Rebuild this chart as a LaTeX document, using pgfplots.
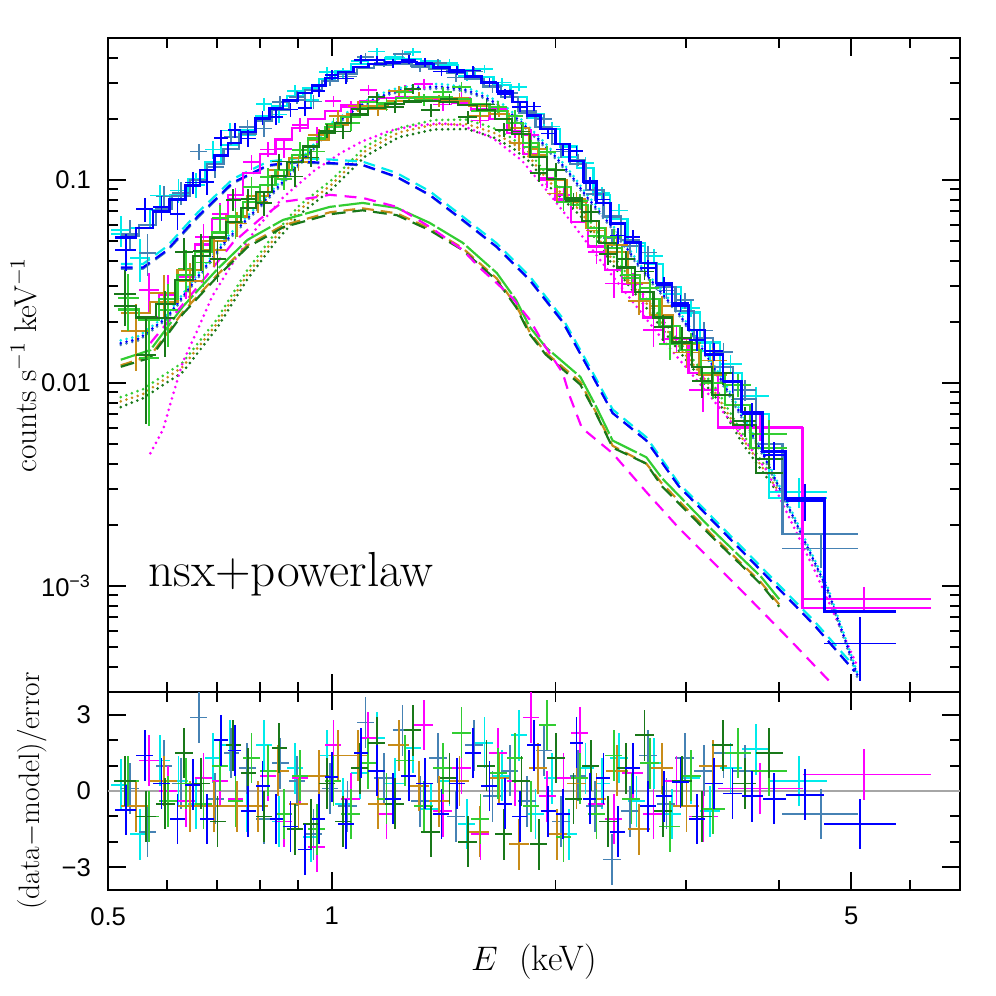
\documentclass[border=0pt]{standalone}
\usepackage{fontspec}
\usepackage{pgfplots}
\usepackage{pgfplotstable}
\pgfplotsset{compat=1.18}
\newfontfamily\tickfont{Liberation Sans}
\definecolor{cB}{RGB}{0,0,255}
\definecolor{cC}{RGB}{0,235,235}
\definecolor{cS}{RGB}{70,130,180}
\definecolor{cM}{RGB}{255,0,255}
\definecolor{cO}{RGB}{200,140,25}
\definecolor{cG}{RGB}{50,205,50}
\definecolor{cD}{RGB}{25,120,25}

\pgfplotstableread{
el eh e m y dy r
0.511 0.545 0.528 0.052 0.045 0.0094 -0.75
0.545 0.575 0.560 0.058 0.0718 0.0099 1.4
0.575 0.605 0.590 0.070 0.0732 0.0105 0.3
0.605 0.635 0.620 0.080 0.0677 0.0112 -1.1
0.635 0.665 0.650 0.094 0.0971 0.0122 0.25
0.665 0.695 0.680 0.112 0.0972 0.0134 -1.1
0.695 0.725 0.710 0.132 0.161 0.0145 2.0
0.725 0.755 0.740 0.152 0.176 0.0152 1.6
0.755 0.790 0.772 0.172 0.160 0.0155 -0.8
0.790 0.825 0.807 0.200 0.203 0.016 0.2
0.825 0.860 0.842 0.224 0.204 0.0179 -1.1
0.860 0.900 0.880 0.246 0.222 0.0172 -1.4
0.900 0.940 0.920 0.268 0.225 0.0188 -2.3
0.940 0.980 0.960 0.292 0.273 0.0175 -1.1
0.980 1.02 1.00 0.318 0.328 0.0191 0.55
1.02 1.07 1.045 0.340 0.316 0.0187 -1.3
1.07 1.12 1.095 0.360 0.390 0.0198 1.5
1.12 1.18 1.15 0.373 0.388 0.0187 0.8
1.18 1.24 1.21 0.381 0.375 0.0191 -0.3
1.24 1.30 1.27 0.380 0.391 0.019 0.6
1.30 1.37 1.335 0.372 0.378 0.0186 0.3
1.37 1.44 1.405 0.358 0.342 0.0179 -0.9
1.44 1.51 1.475 0.342 0.347 0.0171 0.3
1.51 1.59 1.55 0.322 0.346 0.0161 1.5
1.59 1.67 1.63 0.300 0.303 0.015 0.2
1.67 1.75 1.71 0.272 0.265 0.015 -0.5
1.75 1.83 1.79 0.242 0.229 0.0133 -1.0
1.83 1.91 1.87 0.208 0.230 0.0125 1.8
1.91 2.00 1.955 0.178 0.169 0.0107 -0.8
2.00 2.09 2.045 0.150 0.141 0.0098 -0.9
2.09 2.18 2.135 0.124 0.139 0.0081 1.9
2.18 2.27 2.225 0.098 0.096 0.0069 -0.3
2.27 2.37 2.32 0.077 0.080 0.0058 0.5
2.37 2.48 2.425 0.061 0.0532 0.0049 -1.6
2.48 2.60 2.54 0.049 0.0525 0.0039 0.9
2.60 2.73 2.665 0.039 0.0369 0.0035 -0.6
2.73 2.87 2.80 0.031 0.0304 0.0028 -0.2
2.87 3.02 2.945 0.024 0.0248 0.0024 0.35
3.02 3.18 3.10 0.0182 0.0162 0.0018 -1.1
3.18 3.36 3.27 0.0138 0.0143 0.0015 0.3
3.36 3.56 3.46 0.0102 0.0101 0.0012 -0.1
3.56 3.80 3.68 0.0072 0.0070 0.00094 -0.2
3.80 4.08 3.94 0.0046 0.0044 0.00069 -0.3
4.08 4.60 4.33 0.0027 0.00262 0.00054 -0.15
4.60 5.75 5.14 0.00075 0.00052 0.00018 -1.3
}\tabB

\pgfplotstableread{
el eh e m y dy r
0.505 0.535 0.52 0.054 0.0564 0.0097 0.25
0.535 0.57 0.552 0.058 0.0412 0.0099 -1.7
0.57 0.605 0.587 0.071 0.0838 0.0107 1.2
0.605 0.64 0.622 0.084 0.0887 0.0118 0.4
0.64 0.675 0.657 0.101 0.0944 0.0131 -0.5
0.675 0.71 0.692 0.122 0.141 0.0146 1.3
0.71 0.75 0.73 0.148 0.175 0.0148 1.8
0.75 0.79 0.77 0.176 0.166 0.0158 -0.6
0.79 0.83 0.81 0.206 0.236 0.0165 1.8
0.83 0.87 0.85 0.232 0.210 0.0186 -1.2
0.87 0.915 0.892 0.258 0.274 0.0181 0.9
0.915 0.96 0.937 0.284 0.248 0.0199 -1.8
0.96 1.01 0.985 0.314 0.340 0.0188 1.4
1.01 1.06 1.035 0.345 0.336 0.019 -0.5
1.06 1.12 1.09 0.372 0.385 0.0186 0.7
1.12 1.18 1.15 0.388 0.429 0.0194 2.1
1.18 1.25 1.215 0.396 0.402 0.0198 0.3
1.25 1.32 1.285 0.394 0.428 0.0197 1.7
1.32 1.40 1.36 0.384 0.371 0.0192 -0.7
1.40 1.48 1.44 0.368 0.375 0.0184 0.4
1.48 1.56 1.52 0.346 0.324 0.0173 -1.3
1.56 1.65 1.605 0.322 0.353 0.0161 1.9
1.65 1.74 1.695 0.292 0.302 0.0161 0.6
1.74 1.83 1.785 0.256 0.287 0.0141 2.2
1.83 1.93 1.88 0.212 0.201 0.0127 -0.9
1.93 2.03 1.98 0.178 0.183 0.0107 0.5
2.03 2.14 2.085 0.146 0.130 0.0095 -1.7
2.14 2.25 2.195 0.114 0.121 0.008 0.9
2.25 2.37 2.31 0.084 0.0859 0.0063 0.3
2.37 2.50 2.435 0.064 0.0707 0.0051 1.3
2.50 2.64 2.57 0.049 0.0474 0.0039 -0.4
2.64 2.79 2.715 0.0385 0.0423 0.0035 1.1
2.79 2.95 2.87 0.0298 0.0274 0.0027 -0.9
2.95 3.13 3.04 0.0222 0.0233 0.0022 0.5
3.13 3.33 3.23 0.0158 0.0144 0.0017 -0.8
3.33 3.56 3.44 0.0112 0.0124 0.00134 0.9
3.56 3.88 3.72 0.0070 0.0086 0.00098 1.65
3.88 4.64 4.25 0.0027 0.0029 0.00049 0.4
}\tabC

\pgfplotstableread{
el eh e m y dy r
0.52 0.55 0.535 0.053 0.054 0.0095 0.1
0.55 0.58 0.565 0.060 0.0437 0.0102 -1.6
0.58 0.61 0.595 0.072 0.0828 0.0108 1.0
0.61 0.645 0.627 0.083 0.0865 0.0116 0.3
0.645 0.68 0.662 0.100 0.138 0.013 2.9
0.68 0.715 0.697 0.120 0.116 0.0144 -0.3
0.715 0.75 0.732 0.142 0.163 0.0142 1.5
0.75 0.79 0.77 0.168 0.182 0.0151 0.9
0.79 0.83 0.81 0.196 0.179 0.0157 -1.1
0.83 0.875 0.852 0.222 0.242 0.0178 1.1
0.875 0.92 0.897 0.248 0.255 0.0174 0.4
0.92 0.97 0.945 0.276 0.243 0.0193 -1.7
0.97 1.02 0.995 0.306 0.308 0.0184 0.1
1.02 1.08 1.05 0.334 0.323 0.0184 -0.6
1.08 1.14 1.11 0.355 0.403 0.0178 2.7
1.14 1.21 1.175 0.368 0.377 0.0184 0.5
1.21 1.28 1.245 0.372 0.417 0.0186 2.4
1.28 1.35 1.315 0.366 0.359 0.0183 -0.4
1.35 1.43 1.39 0.352 0.375 0.0176 1.3
1.43 1.51 1.47 0.336 0.319 0.0168 -1.0
1.51 1.60 1.555 0.314 0.342 0.0157 1.8
1.60 1.69 1.645 0.288 0.285 0.0158 -0.2
1.69 1.78 1.735 0.256 0.267 0.0141 0.8
1.78 1.88 1.83 0.218 0.213 0.0131 -0.4
1.88 1.98 1.93 0.182 0.199 0.0109 1.6
1.98 2.09 2.035 0.150 0.138 0.0098 -1.2
2.09 2.20 2.145 0.120 0.125 0.0084 0.6
2.20 2.32 2.26 0.089 0.085 0.0067 -0.6
2.32 2.45 2.385 0.066 0.0517 0.0053 -2.7
2.45 2.59 2.52 0.0505 0.0473 0.004 -0.8
2.59 2.74 2.665 0.039 0.0439 0.0035 1.4
2.74 2.90 2.82 0.0298 0.0285 0.0027 -0.5
2.90 3.07 2.985 0.0226 0.0255 0.0023 1.3
3.07 3.26 3.165 0.0166 0.0181 0.0018 0.8
3.26 3.47 3.365 0.0120 0.0142 0.00144 1.5
3.47 3.72 3.595 0.0083 0.0092 0.00108 0.8
3.72 4.04 3.88 0.0050 0.0056 0.00075 0.8
4.04 5.10 4.55 0.0018 0.00153 0.0003 -0.9
}\tabS

\pgfplotstableread{
el eh e m y dy r
0.515 0.55 0.532 0.023 0.0262 0.0081 0.4
0.55 0.585 0.567 0.0205 0.0133 0.0072 -1.0
0.585 0.62 0.602 0.026 0.0229 0.0078 -0.4
0.62 0.655 0.637 0.034 0.0366 0.0085 0.3
0.655 0.69 0.672 0.044 0.0392 0.0097 -0.5
0.69 0.725 0.707 0.055 0.0649 0.0099 1.0
0.725 0.76 0.742 0.066 0.0618 0.0106 -0.4
0.76 0.80 0.78 0.078 0.0922 0.0109 1.3
0.80 0.84 0.82 0.094 0.103 0.0113 0.8
0.84 0.885 0.862 0.112 0.101 0.0123 -0.9
0.885 0.93 0.907 0.132 0.140 0.0132 0.6
0.93 0.98 0.955 0.160 0.138 0.0144 -1.5
0.98 1.03 1.005 0.182 0.188 0.0146 0.4
1.03 1.09 1.06 0.204 0.190 0.0153 -0.9
1.09 1.15 1.12 0.225 0.242 0.0158 1.1
1.15 1.22 1.185 0.240 0.235 0.0168 -0.3
1.22 1.29 1.255 0.252 0.272 0.0164 1.2
1.29 1.37 1.33 0.257 0.247 0.0167 -0.6
1.37 1.45 1.41 0.256 0.271 0.0166 0.9
1.45 1.54 1.495 0.250 0.287 0.0163 2.3
1.54 1.63 1.585 0.236 0.219 0.0153 -1.1
1.63 1.72 1.675 0.218 0.229 0.0153 0.7
1.72 1.81 1.765 0.190 0.207 0.0133 1.3
1.81 1.90 1.855 0.152 0.145 0.0114 -0.6
1.90 2.00 1.95 0.113 0.137 0.009 2.6
2.00 2.10 2.05 0.092 0.0779 0.0078 -1.8
2.10 2.21 2.155 0.075 0.0784 0.0068 0.5
2.21 2.33 2.27 0.058 0.0528 0.0058 -0.9
2.33 2.46 2.395 0.046 0.0524 0.0046 1.4
2.46 2.60 2.53 0.034 0.0329 0.0037 -0.3
2.60 2.76 2.68 0.026 0.0294 0.0031 1.1
2.76 2.94 2.85 0.019 0.0155 0.0025 -1.4
2.94 3.14 3.04 0.0145 0.0157 0.002 0.6
3.14 3.38 3.26 0.0112 0.0100 0.0017 -0.7
3.38 3.66 3.52 0.0078 0.0098 0.0013 1.5
3.66 4.10 3.88 0.0048 0.0056 0.00096 0.8
}\tabG

\pgfplotstableread{
el eh e m y dy r
0.51 0.545 0.527 0.024 0.0274 0.0084 0.4
0.545 0.58 0.562 0.021 0.0137 0.0074 -1.0
0.58 0.615 0.597 0.0245 0.0208 0.0074 -0.5
0.615 0.65 0.632 0.032 0.044 0.008 1.5
0.65 0.685 0.667 0.042 0.0448 0.0092 0.3
0.685 0.72 0.702 0.052 0.0408 0.0094 -1.2
0.72 0.755 0.737 0.062 0.0799 0.0099 1.8
0.755 0.79 0.772 0.073 0.0802 0.0102 0.7
0.79 0.83 0.81 0.087 0.0766 0.0104 -1.0
0.83 0.87 0.85 0.104 0.123 0.0114 1.7
0.87 0.915 0.892 0.122 0.104 0.0122 -1.5
0.915 0.96 0.937 0.146 0.129 0.0131 -1.3
0.96 1.01 0.985 0.170 0.174 0.0136 0.3
1.01 1.06 1.035 0.190 0.173 0.0143 -1.2
1.06 1.12 1.09 0.210 0.223 0.0147 0.9
1.12 1.18 1.15 0.225 0.255 0.0158 1.9
1.18 1.25 1.215 0.236 0.228 0.0153 -0.5
1.25 1.32 1.285 0.243 0.281 0.0158 2.4
1.32 1.40 1.36 0.245 0.220 0.0159 -1.6
1.40 1.48 1.44 0.242 0.250 0.0157 0.5
1.48 1.57 1.525 0.234 0.204 0.0152 -2.0
1.57 1.66 1.615 0.220 0.235 0.0154 1.0
1.66 1.75 1.705 0.200 0.176 0.014 -1.7
1.75 1.85 1.80 0.168 0.173 0.0126 0.4
1.85 1.95 1.90 0.130 0.108 0.0104 -2.1
1.95 2.06 2.005 0.101 0.112 0.0086 1.3
2.06 2.17 2.115 0.081 0.0788 0.0073 -0.3
2.17 2.29 2.23 0.063 0.0693 0.0063 1.0
2.29 2.42 2.355 0.049 0.0431 0.0049 -1.2
2.42 2.56 2.49 0.037 0.0407 0.0041 0.9
2.56 2.71 2.635 0.028 0.0354 0.0034 2.2
2.71 2.87 2.79 0.021 0.0188 0.0027 -0.8
2.87 3.05 2.96 0.0158 0.0167 0.0022 0.4
3.05 3.25 3.15 0.0120 0.0102 0.0018 -1.0
3.25 3.47 3.36 0.0087 0.0112 0.0014 1.8
3.47 3.72 3.595 0.0062 0.0065 0.0011 0.3
3.72 4.05 3.88 0.0036 0.0042 0.00043 1.5
}\tabD

\pgfplotstableread{
el eh e m y dy r
0.52 0.57 0.545 0.022 0.018 0.0066 -0.6
0.57 0.62 0.595 0.025 0.0276 0.0065 0.4
0.62 0.67 0.645 0.036 0.0317 0.0072 -0.6
0.67 0.72 0.695 0.050 0.0452 0.008 -0.6
0.72 0.77 0.745 0.066 0.0609 0.0086 -0.6
0.77 0.82 0.795 0.083 0.0775 0.0091 -0.6
0.82 0.875 0.847 0.104 0.112 0.0104 0.8
0.875 0.93 0.902 0.128 0.122 0.0115 -0.5
0.93 0.99 0.96 0.158 0.166 0.0126 0.6
0.99 1.05 1.02 0.186 0.206 0.014 1.4
1.05 1.12 1.085 0.210 0.231 0.0147 1.4
1.12 1.19 1.155 0.230 0.222 0.0161 -0.5
1.19 1.27 1.23 0.245 0.274 0.0159 1.8
1.27 1.35 1.31 0.252 0.255 0.0164 0.2
1.35 1.44 1.395 0.252 0.245 0.0164 -0.4
1.44 1.53 1.485 0.246 0.252 0.016 0.4
1.53 1.63 1.58 0.232 0.206 0.0162 -1.6
1.63 1.73 1.68 0.212 0.219 0.0148 0.5
1.73 1.84 1.785 0.180 0.152 0.0135 -2.1
1.84 1.95 1.895 0.132 0.142 0.0106 0.9
1.95 2.07 2.01 0.100 0.0856 0.0085 -1.7
2.07 2.20 2.135 0.078 0.0802 0.0074 0.3
2.20 2.34 2.27 0.058 0.0563 0.0058 -0.3
2.34 2.50 2.42 0.044 0.0479 0.0048 0.8
2.50 2.68 2.59 0.031 0.0254 0.0037 -1.5
2.68 2.88 2.78 0.0215 0.024 0.0028 0.9
2.88 3.12 3.0 0.0155 0.0141 0.0023 -0.6
3.12 3.40 3.26 0.0110 0.0129 0.0019 1.0
}\tabO

\pgfplotstableread{
el eh e m y dy r
0.55 0.585 0.567 0.021 0.0286 0.0063 1.2
0.585 0.62 0.602 0.027 0.027 0.0068 0.0
0.62 0.655 0.637 0.036 0.0331 0.0072 -0.4
0.655 0.69 0.672 0.048 0.0521 0.0082 0.5
0.69 0.725 0.707 0.064 0.0676 0.009 0.4
0.725 0.76 0.742 0.084 0.081 0.0101 -0.3
0.76 0.80 0.78 0.108 0.122 0.0108 1.3
0.80 0.84 0.82 0.134 0.141 0.0121 0.6
0.84 0.885 0.862 0.158 0.142 0.0134 -1.2
0.885 0.93 0.907 0.180 0.187 0.0144 0.5
0.93 0.98 0.955 0.200 0.167 0.015 -2.2
0.98 1.03 1.005 0.218 0.245 0.0153 1.8
1.03 1.09 1.06 0.234 0.229 0.0164 -0.3
1.09 1.15 1.12 0.245 0.278 0.0159 2.1
1.15 1.22 1.185 0.252 0.237 0.0164 -0.9
1.22 1.29 1.255 0.255 0.275 0.0166 1.2
1.29 1.37 1.33 0.254 0.297 0.0165 2.6
1.37 1.45 1.41 0.248 0.235 0.0161 -0.8
1.45 1.54 1.495 0.238 0.253 0.0167 0.9
1.54 1.63 1.585 0.222 0.196 0.0155 -1.7
1.63 1.72 1.675 0.200 0.223 0.015 1.5
1.72 1.81 1.765 0.170 0.175 0.0136 0.4
1.81 1.90 1.855 0.134 0.167 0.0114 2.9
1.90 2.00 1.95 0.102 0.100 0.0092 -0.2
2.00 2.10 2.05 0.080 0.084 0.008 0.5
2.10 2.21 2.155 0.062 0.0777 0.0068 2.3
2.21 2.33 2.27 0.047 0.0442 0.0056 -0.5
2.33 2.46 2.395 0.036 0.0309 0.0047 -1.1
2.46 2.62 2.54 0.028 0.0307 0.0039 0.7
2.62 2.80 2.71 0.0210 0.0182 0.0032 -0.9
2.80 3.02 2.91 0.0155 0.0165 0.0025 0.4
3.02 3.31 3.16 0.0112 0.0092 0.002 -1.0
3.31 4.30 3.77 0.0060 0.0061 0.0009 0.1
4.30 6.40 5.20 0.00078 0.00086 0.000125 0.65
}\tabM

\pgfplotstableread{
e b c s
0.52 0.037 0.0385 0.0365
0.557 0.037 0.0385 0.0365
0.60 0.045 0.047 0.0445
0.66 0.066 0.069 0.065
0.736 0.097 0.101 0.096
0.82 0.118 0.123 0.117
0.905 0.123 0.128 0.122
0.994 0.121 0.126 0.120
1.10 0.1185 0.123 0.118
1.223 0.1035 0.108 0.103
1.354 0.0844 0.088 0.084
1.50 0.0635 0.066 0.063
1.667 0.0468 0.0487 0.0466
1.846 0.0322 0.0335 0.032
2.045 0.0200 0.0208 0.0199
2.22 0.0116 0.0121 0.0116
2.387 0.0071 0.0074 0.0071
2.65 0.0052 0.0054 0.0052
2.93 0.0031 0.0032 0.0031
3.62 0.00140 0.00146 0.00140
4.46 0.00064 0.00067 0.00064
5.05 0.00038 0.00040 0.00038
}\tabUD

\pgfplotstableread{
e b c s
0.52 0.0157 0.0162 0.0154
0.55 0.0165 0.0170 0.0162
0.60 0.021 0.0216 0.0206
0.66 0.0333 0.0343 0.0326
0.72 0.050 0.0515 0.049
0.79 0.071 0.073 0.0696
0.86 0.098 0.101 0.096
0.93 0.135 0.139 0.132
1.0 0.185 0.191 0.181
1.1 0.235 0.242 0.230
1.2 0.27 0.278 0.265
1.3 0.285 0.294 0.279
1.4 0.288 0.297 0.282
1.5 0.28 0.288 0.274
1.6 0.258 0.266 0.253
1.7 0.228 0.235 0.223
1.8 0.192 0.198 0.188
1.9 0.158 0.163 0.155
2.0 0.13 0.134 0.127
2.1 0.105 0.108 0.103
2.2 0.083 0.0855 0.0813
2.38 0.059 0.0608 0.0578
2.6 0.037 0.0381 0.0363
2.93 0.022 0.0227 0.0216
3.2 0.0135 0.0139 0.0132
3.43 0.0088 0.0091 0.0086
3.8 0.0045 0.0046 0.0044
4.2 0.0021 0.00216 0.00206
4.65 0.00095 0.00098 0.00093
5.1 0.00036 0.00037 0.00035
}\tabUT

\pgfplotstableread{
e g d o
0.52 0.013 0.0120 0.0122
0.57 0.0145 0.0133 0.0136
0.63 0.0237 0.0218 0.0223
0.70 0.036 0.0331 0.0338
0.77 0.0506 0.0466 0.0476
0.86 0.0635 0.0584 0.0597
0.994 0.0736 0.0677 0.0692
1.10 0.077 0.0708 0.0724
1.223 0.0728 0.067 0.0684
1.354 0.0614 0.0565 0.0577
1.50 0.049 0.0451 0.0461
1.667 0.0348 0.032 0.0327
1.77 0.0256 0.0236 0.0241
1.846 0.0189 0.0174 0.0178
1.94 0.0150 0.0138 0.0141
2.16 0.0107 0.0098 0.0101
2.27 0.0076 0.0070 0.0071
2.387 0.0052 0.0048 0.0049
2.65 0.0043 0.0040 0.0040
2.78 0.0034 0.0031 0.0032
3.25 0.00189 0.00174 0.00178
3.78 0.00111 0.00102 0.00104
4.0 0.00086 0.00079 0.00081
}\tabLD

\pgfplotstableread{
e g d o
0.52 0.0085 0.0076 0.0081
0.557 0.0093 0.0084 0.0088
0.63 0.0126 0.0113 0.012
0.70 0.0205 0.0185 0.0195
0.77 0.036 0.0324 0.0342
0.84 0.055 0.0495 0.0523
0.905 0.075 0.0675 0.0713
1.0 0.10 0.090 0.095
1.11 0.146 0.131 0.139
1.23 0.18 0.162 0.171
1.37 0.197 0.177 0.187
1.52 0.198 0.178 0.188
1.65 0.18 0.162 0.171
1.75 0.16 0.144 0.152
1.85 0.135 0.122 0.128
1.95 0.105 0.0945 0.10
2.16 0.074 0.0666 0.0703
2.38 0.043 0.0387 0.0409
2.65 0.026 0.0234 0.0247
2.93 0.016 0.0144 0.0152
3.3 0.0092 0.0083 0.0087
3.56 0.0057 0.0051 0.0054
4.0 0.0031 0.0028 0.0029
}\tabLT

\pgfplotstableread{
e v
0.57 0.0157
0.60 0.0197
0.66 0.0297
0.736 0.049
0.80 0.064
0.86 0.078
0.95 0.082
0.994 0.0844
1.10 0.0815
1.223 0.0736
1.354 0.0587
1.50 0.0452
1.58 0.037
1.667 0.031
1.75 0.0262
1.846 0.0205
1.94 0.0150
2.045 0.0112
2.09 0.0086
2.17 0.0060
2.387 0.0045
2.65 0.0029
2.93 0.00193
3.62 0.00089
4.12 0.00055
4.67 0.00034
}\tabMD

\pgfplotstableread{
e v
0.57 0.0045
0.593 0.0059
0.61 0.0085
0.63 0.0126
0.66 0.0183
0.69 0.0266
0.736 0.039
0.79 0.057
0.86 0.082
0.95 0.112
1.03 0.136
1.1 0.155
1.2 0.175
1.3 0.185
1.4 0.19
1.5 0.185
1.65 0.16
1.8 0.125
1.95 0.088
2.1 0.062
2.3 0.04
2.5 0.027
2.8 0.016
3.15 0.0096
3.45 0.0064
3.85 0.0037
4.17 0.0020
4.46 0.0012
5.1 0.0004
}\tabMT

\tikzset{
  dsh/.style={line width=1.1bp, dash pattern=on 6bp off 3.5bp},
  dtt/.style={line width=1.5bp, line cap=round, dash pattern=on 0bp off 3bp},
}

\newcommand\drawspec[3]{%
  \addplot[#1, const plot mark left, line width=#3, forget plot] table[x=el,y=m]{#2};
  \addplot[#1, const plot mark right, line width=#3, forget plot] table[x=eh,y=m]{#2};
  \addplot[draw=none, mark=none, forget plot, error bars/.cd, x dir=both, x explicit, y dir=both, y explicit, error mark=none, error bar style={draw=#1, solid, line width=0.9bp}] table[x=e, y=y, x error minus expr=\thisrow{e}-\thisrow{el}, x error plus expr=\thisrow{eh}-\thisrow{e}, y error=dy]{#2};
}
\newcommand\drawres[2]{%
  \addplot[draw=none, mark=none, forget plot, error bars/.cd, x dir=both, x explicit, y dir=both, y explicit, error mark=none, error bar style={draw=#1, solid, line width=0.9bp}] table[x=e, y=r, x error minus expr=\thisrow{e}-\thisrow{el}, x error plus expr=\thisrow{eh}-\thisrow{e}, y error expr=1]{#2};
}

\begin{document}
\begin{tikzpicture}
\useasboundingbox (-54.7bp,-153.8bp) rectangle (449.3bp,350.2bp);
\begin{axis}[name=top, at={(0,0)}, anchor=south west,
  scale only axis, width=431bp, height=331bp,
  xmode=log, ymode=log, xmin=0.5, xmax=7, ymin=3e-4, ymax=0.5,
  xtick={0.5,1,5}, minor xtick={0.6,0.7,0.8,0.9,2,3,4,6,7},
  tick align=inside, xtick pos=both, ytick pos=both,
  major tick length=9bp, minor tick length=5bp,
  tick style={line width=1bp, black},
  axis line style={line width=1.3bp},
  tick label style={font=\tickfont\fontsize{13}{13}\selectfont},
  yticklabel style={anchor=east, inner sep=0pt, xshift=-8.5bp},
  ytick={0.001,0.01,0.1}, yticklabels={{10\textsuperscript{−3}},{0.01},{0.1}},
  minor ytick={4e-4,5e-4,6e-4,7e-4,8e-4,9e-4,0.002,0.003,0.004,0.005,0.006,0.007,0.008,0.009,0.02,0.03,0.04,0.05,0.06,0.07,0.08,0.09,0.2,0.3,0.4},
  xticklabels={,,},
  ylabel={counts\ s$^{-1}$\ keV$^{-1}$},
  ylabel style={at={(axis description cs:-0.0835,0.5)}, anchor=base, inner sep=0pt, font=\fontsize{16}{18}\selectfont}]
\addplot[cO, dtt] table[x=e,y=o]{\tabLT};
\addplot[cG, dtt] table[x=e,y=g]{\tabLT};
\addplot[cD, dtt] table[x=e,y=d]{\tabLT};
\addplot[cM, dtt] table[x=e,y=v]{\tabMT};
\addplot[cS, dtt] table[x=e,y=s]{\tabUT};
\addplot[cC, dtt] table[x=e,y=c]{\tabUT};
\addplot[cB, dtt] table[x=e,y=b]{\tabUT};
\addplot[cO, dsh] table[x=e,y=o]{\tabLD};
\addplot[cD, dsh, dash pattern=on 7bp off 3.5bp] table[x=e,y=d]{\tabLD};
\addplot[cG, line width=1.1bp, dash pattern=on 16bp off 1.5bp] table[x=e,y=g]{\tabLD};
\addplot[cM, dsh, dash pattern=on 6bp off 4bp] table[x=e,y=v]{\tabMD};
\addplot[cS, dsh] table[x=e,y=s]{\tabUD};
\addplot[cC, dsh] table[x=e,y=c]{\tabUD};
\addplot[cB, dsh] table[x=e,y=b]{\tabUD};
\drawspec{cC}{\tabC}{1.1bp}
\drawspec{cS}{\tabS}{1.1bp}
\drawspec{cM}{\tabM}{1.1bp}
\drawspec{cO}{\tabO}{1.1bp}
\drawspec{cG}{\tabG}{1.1bp}
\drawspec{cD}{\tabD}{1.1bp}
\drawspec{cB}{\tabB}{1.3bp}
\node[anchor=base west, inner sep=0pt, font=\fontsize{25}{25}\selectfont] at (axis cs:0.566,0.00099) {nsx+powerlaw};
\end{axis}
\begin{axis}[at={(top.south west)}, anchor=north west,
  scale only axis, width=431bp, height=100.2bp,
  xmode=log, xmin=0.5, xmax=7, ymin=-3.9, ymax=3.9,
  xtick={0.5,1,5}, minor xtick={0.6,0.7,0.8,0.9,2,3,4,6,7},
  tick align=inside, xtick pos=both, ytick pos=both,
  major tick length=9bp, minor tick length=5bp,
  tick style={line width=1bp, black},
  axis line style={line width=1.3bp},
  tick label style={font=\tickfont\fontsize{13}{13}\selectfont},
  yticklabel style={anchor=east, inner sep=0pt, xshift=-8.5bp},
  ytick={-3,0,3}, minor ytick={-2,-1,1,2}, yticklabels={−3,0,3},
  xticklabels={0.5,1,5},
  xticklabel style={anchor=north, inner sep=0pt, yshift=-8.5bp},
  xlabel={$E$\ \ (keV)},
  xlabel style={at={(axis description cs:0.5,-0.363)}, anchor=center, font=\fontsize{18}{20}\selectfont},
  ylabel={(data$-$model)/error},
  ylabel style={at={(axis description cs:-0.081,0.5)}, anchor=base, inner sep=0pt, font=\fontsize{15}{17}\selectfont}]
\addplot[gray!70, line width=1bp] coordinates {(0.5,0) (7,0)};
\drawres{cC}{\tabC}
\drawres{cS}{\tabS}
\drawres{cM}{\tabM}
\drawres{cO}{\tabO}
\drawres{cG}{\tabG}
\drawres{cD}{\tabD}
\drawres{cB}{\tabB}
\end{axis}
\end{tikzpicture}
\end{document}
